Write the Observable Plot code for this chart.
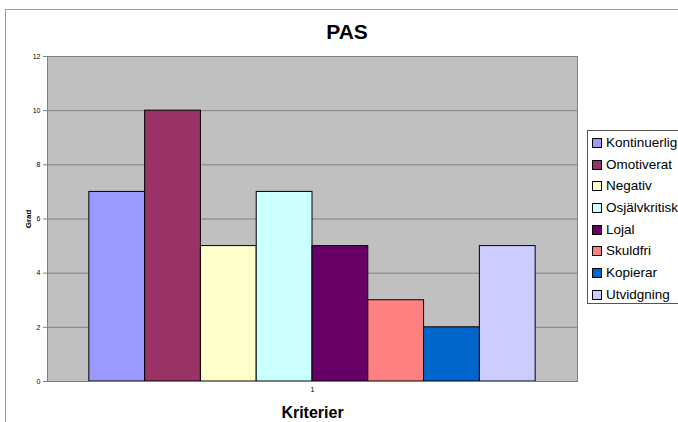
<!DOCTYPE html>
<html>
<head>
<meta charset="utf-8">
<script src="https://cdn.jsdelivr.net/npm/d3@7"></script>
<script src="https://cdn.jsdelivr.net/npm/@observablehq/plot@0.6"></script>
<style>
  html, body { margin: 0; padding: 0; background: #fff; }
  body { width: 678px; height: 422px; overflow: hidden; position: relative; font-family: "Liberation Sans", Arial, sans-serif; }
  #frame { position: absolute; left: 5px; top: 9px; width: 720px; height: 500px; border: 1px solid #a0a0a0; box-sizing: border-box; }
  #title { position: absolute; left: 0; width: 694px; top: 20px; text-align: center; font-weight: bold; font-size: 21px; }
  #chart { position: absolute; left: 0; top: 0; }
  #legend { position: absolute; left: 587px; top: 130px; width: 120px; height: 174px; border: 1px solid #555; box-sizing: border-box; background: #fff; padding-top: 1px; }
  .item { height: 21.7px; line-height: 21.7px; font-size: 13.5px; white-space: nowrap; display: flex; align-items: center; }
  .sw { width: 8px; height: 8px; border: 1px solid #000; margin-left: 4px; margin-right: 4px; flex: none; }
  g[aria-label="y-axis label"] text { font-weight: bold; font-size: 8px; }
  g[aria-label="fx-axis label"] text { font-weight: bold; font-size: 16px; }
</style>
</head>
<body>
<div id="frame"></div>
<div id="chart"></div>
<div id="title">PAS</div>
<div id="legend"></div>
<script>
const groups = ["1"];
const series = ["Kontinuerlig", "Omotiverat", "Negativ", "Osjälvkritisk", "Lojal", "Skuldfri", "Kopierar", "Utvidgning"];
const values = [7, 10, 5, 7, 5, 3, 2, 5];
const colors = ["#9999FF", "#993366", "#FFFFCC", "#CCFFFF", "#660066", "#FF8080", "#0066CC", "#CCCCFF"];
const yTicks = [0, 2, 4, 6, 8, 10, 12];

const data = series.map((s, i) => ({group: groups[0], series: s, value: values[i]}));

const chart = Plot.plot({
  width: 678,
  height: 422,
  marginLeft: 47,
  marginRight: 101,
  marginTop: 56,
  marginBottom: 41,
  style: {fontFamily: "'Liberation Sans', Arial, sans-serif", fontSize: "7px", background: "transparent", overflow: "visible"},
  fx: {domain: groups, padding: 0, round: false},
  x: {domain: series, paddingInner: 0, paddingOuter: 0.75, round: false, axis: null},
  y: {domain: [0, 12]},
  color: {domain: series, range: colors},
  marks: [
    Plot.frame({fill: "#C0C0C0"}),
    Plot.gridY(yTicks, {stroke: "#808080", strokeOpacity: 1}),
    Plot.barY(data, {fx: "group", x: "series", y: "value", fill: "series", stroke: "#000", strokeWidth: 1}),
    Plot.frame({stroke: "#808080"}),
    Plot.axisY(yTicks, {tickSize: 4, tickPadding: 3, label: "Grad", labelAnchor: "center", labelArrow: "none", labelOffset: 22, stroke: "#808080"}),
    Plot.axisFx({anchor: "bottom", tickSize: 0, tickPadding: 6, label: "Kriterier", labelAnchor: "center", labelArrow: "none", labelOffset: 36})
  ]
});
document.getElementById("chart").appendChild(chart);

const legend = document.getElementById("legend");
series.forEach((s, i) => {
  const it = document.createElement("div");
  it.className = "item";
  const sw = document.createElement("span");
  sw.className = "sw";
  sw.style.background = colors[i];
  const t = document.createElement("span");
  t.textContent = s;
  it.appendChild(sw);
  it.appendChild(t);
  legend.appendChild(it);
});
</script>
</body>
</html>
